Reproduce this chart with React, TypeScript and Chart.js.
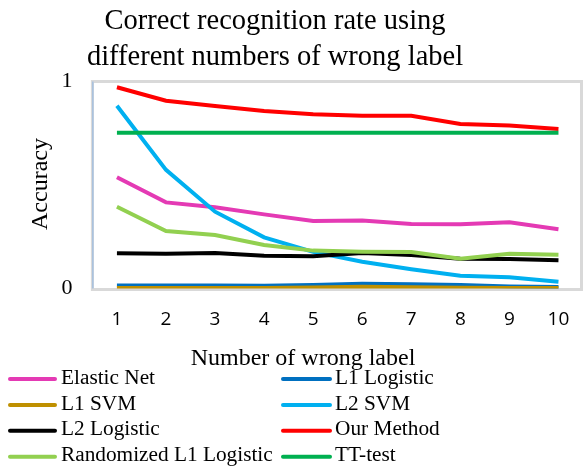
import { useEffect, useRef } from 'react';
import { Chart, registerables } from 'chart.js';

Chart.register(...registerables);

const categories = ['1', '2', '3', '4', '5', '6', '7', '8', '9', '10'];
const elasticNet = [0.537, 0.416, 0.392, 0.358, 0.326, 0.329, 0.312, 0.31, 0.32, 0.286];
const l1Logistic = [0.014, 0.014, 0.015, 0.013, 0.017, 0.023, 0.02, 0.017, 0.01, 0.007];
const l1Svm = [0.002, 0.002, 0.003, 0.003, 0.005, 0.009, 0.006, 0.004, 0.002, 0.002];
const l2Svm = [0.883, 0.573, 0.371, 0.247, 0.177, 0.129, 0.093, 0.062, 0.054, 0.033];
const l2Logistic = [0.17, 0.168, 0.171, 0.158, 0.156, 0.171, 0.162, 0.144, 0.143, 0.136];
const ourMethod = [0.972, 0.907, 0.882, 0.858, 0.842, 0.835, 0.835, 0.795, 0.788, 0.771];
const randomizedL1 = [0.395, 0.278, 0.258, 0.21, 0.183, 0.178, 0.176, 0.144, 0.168, 0.163];
const ttTest = [0.753, 0.753, 0.753, 0.753, 0.753, 0.753, 0.753, 0.753, 0.753, 0.753];

const seriesNames = [
  'Elastic Net',
  'L1 Logistic',
  'L1 SVM',
  'L2 SVM',
  'L2 Logistic',
  'Our Method',
  'Randomized L1 Logistic',
  'TT-test',
];
const seriesValues = [elasticNet, l1Logistic, l1Svm, l2Svm, l2Logistic, ourMethod, randomizedL1, ttTest];
const seriesColors = ['#E43AB4', '#0070C0', '#BF9000', '#00B0F0', '#000000', '#FF0000', '#92D050', '#00B050'];

const titleLines = ['Correct recognition rate using', 'different numbers of wrong label'];
const xTitle = 'Number of wrong label';
const yTitle = 'Accuracy';
const yTicks = [0, 1];

const SERIF = '"Liberation Serif", "Times New Roman", serif';

const decorPlugin = {
  id: 'decor',
  beforeDatasetsDraw(chart: any) {
    const { ctx, chartArea: a } = chart;
    ctx.save();
    ctx.strokeStyle = '#d9d9d9';
    ctx.lineWidth = 3;
    ctx.strokeRect(a.left, a.top, a.right - 1.5 - a.left, a.bottom + 1 - a.top);
    ctx.strokeStyle = '#8db4e2';
    ctx.lineWidth = 1;
    ctx.beginPath();
    ctx.moveTo(a.left + 0.5, a.top);
    ctx.lineTo(a.left + 0.5, a.bottom);
    ctx.stroke();
    ctx.restore();
  },
  afterDraw(chart: any) {
    const { ctx } = chart;
    ctx.save();
    ctx.fillStyle = '#000';
    ctx.textBaseline = 'middle';
    // title
    ctx.textAlign = 'center';
    ctx.font = `28.5px ${SERIF}`;
    ctx.fillText(titleLines[0], 275, 22);
    ctx.fillText(titleLines[1], 275, 58);
    // x title
    ctx.font = `24px ${SERIF}`;
    ctx.fillText(xTitle, 303, 359);
    // y title
    ctx.save();
    ctx.translate(41, 184);
    ctx.rotate(-Math.PI / 2);
    ctx.fillText(yTitle, 0, 0);
    ctx.restore();
    // legend
    ctx.textAlign = 'left';
    ctx.font = `21.3px ${SERIF}`;
    const cols = [
      { x0: 10, x1: 55, tx: 61 },
      { x0: 283, x1: 330, tx: 335 },
    ];
    seriesNames.forEach((name, i) => {
      const c = cols[i % 2];
      const y = 378 + Math.floor(i / 2) * 25.9;
      ctx.strokeStyle = seriesColors[i];
      ctx.lineWidth = 4;
      ctx.lineCap = 'round';
      ctx.beginPath();
      ctx.moveTo(c.x0, y + 1);
      ctx.lineTo(c.x1, y + 1);
      ctx.stroke();
      ctx.fillText(name, c.tx, y);
    });
    ctx.restore();
  },
};

export default function App() {
  const ref = useRef<HTMLCanvasElement>(null);
  useEffect(() => {
    document.body.style.margin = '0';
    const canvas = ref.current!;
    const chart = new Chart(canvas, {
      type: 'line',
      data: {
        labels: categories,
        datasets: seriesNames.map((name, i) => ({
          label: name,
          data: seriesValues[i],
          borderColor: seriesColors[i],
          backgroundColor: seriesColors[i],
          borderWidth: 4,
          pointRadius: 0,
          tension: 0,
          fill: false,
          order: seriesNames.length - i,
        })),
      },
      options: {
        responsive: false,
        animation: false,
        devicePixelRatio: 1,
        layout: { padding: { top: 81.5, left: 0, right: 0, bottom: 467 - 288.5 - 50 } },
        plugins: {
          legend: { display: false },
          title: { display: false },
          tooltip: { enabled: false },
        },
        scales: {
          x: {
            type: 'category',
            offset: true,
            grid: { display: false, drawTicks: false },
            border: { display: false },
            ticks: {
              padding: 20,
              color: '#000',
              font: { family: '"Open Sans", "Liberation Sans", sans-serif', size: 19 },
              maxRotation: 0,
              autoSkip: false,
            },
            afterFit: (s: any) => {
              s.height = 50;
              s.paddingLeft = 0;
              s.paddingRight = 0;
            },
          },
          y: {
            min: 0,
            max: 1,
            grid: { display: false, drawTicks: false },
            border: { display: false },
            afterBuildTicks: (s: any) => {
              s.ticks = yTicks.map((v) => ({ value: v }));
            },
            ticks: {
              padding: 20,
              color: '#000',
              font: { family: SERIF, size: 22 },
              callback: (v: any) => String(v),
            },
            afterFit: (s: any) => {
              s.width = 92.4;
              s.paddingTop = 0;
              s.paddingBottom = 0;
            },
          },
        },
      },
      plugins: [decorPlugin],
    });
    return () => chart.destroy();
  }, []);
  return (
    <div style={{ width: 583, height: 467 }}>
      <canvas ref={ref} width={583} height={467} style={{ display: 'block', width: 583, height: 467 }} />
    </div>
  );
}
